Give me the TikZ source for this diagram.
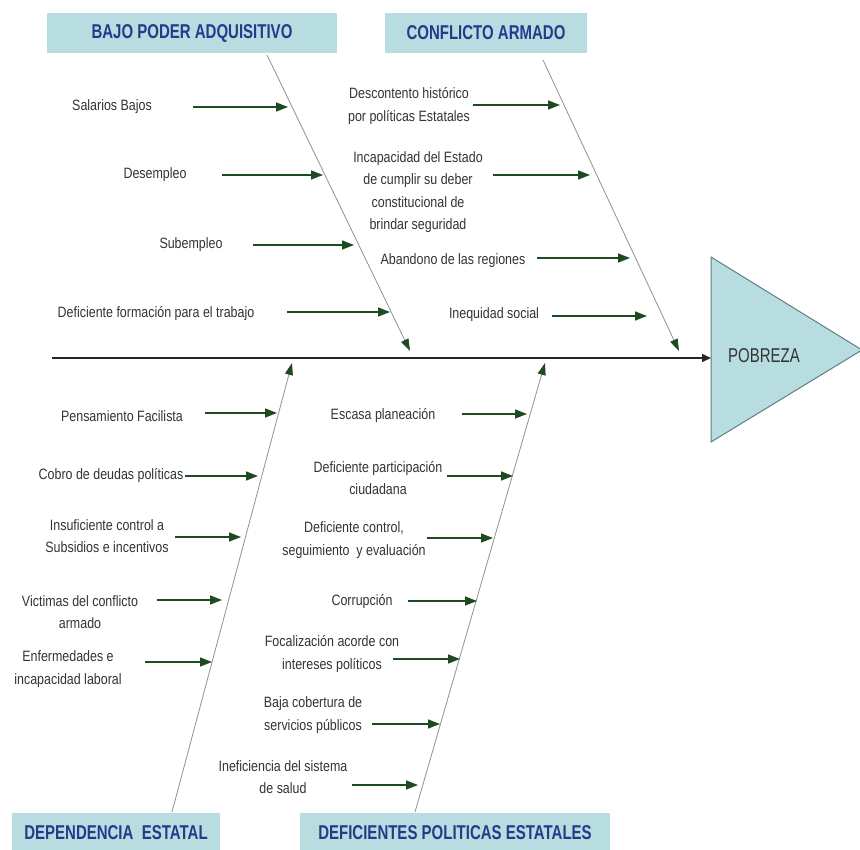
\documentclass[tikz,border=0pt]{standalone}
\usepackage{fontspec}
\setmainfont{Liberation Sans}[FakeStretch=0.83]
\newfontfamily\headfont{Liberation Sans}[FakeStretch=0.75]
\usetikzlibrary{arrows.meta}

\definecolor{cajafondo}{HTML}{B7DDE0}
\definecolor{cajatexto}{HTML}{26398A}
\definecolor{verde}{HTML}{1E4A22}
\definecolor{espinagris}{HTML}{8A948A}
\definecolor{textocausa}{HTML}{333333}
\definecolor{borde}{HTML}{5F7F84}

\tikzset{
  cabecera/.style={fill=cajafondo, inner sep=0pt, font=\headfont\bfseries\fontsize{20}{22}\selectfont, text=cajatexto},
  causa/.style={align=center, inner sep=0pt, font=\fontsize{15}{22.5}\selectfont, text=textocausa},
  flecha/.style={draw=verde, line width=1.5pt, -{Triangle[length=12pt,width=9pt]}},
  espina/.style={draw=espinagris, line width=0.8pt, -{Triangle[length=12pt,width=8pt,color=verde]}}
}

\begin{document}
\begin{tikzpicture}[x=1pt,y=-1pt]
\useasboundingbox (0,0) rectangle (860,850);

% Drawing header boxes
\node [cabecera, minimum width=290, minimum height=40] (bajo) at (192,33) {BAJO PODER ADQUISITIVO};
\node [cabecera, minimum width=202, minimum height=40] (conflicto) at (486,33) {CONFLICTO ARMADO\hspace{22pt}};
\node [cabecera, minimum width=208, minimum height=38, anchor=north] (dependencia) at (116,813) {DEPENDENCIA\ \ ESTATAL};
\node [cabecera, minimum width=310, minimum height=38, anchor=north] (deficientes) at (455,813) {DEFICIENTES POLITICAS ESTATALES\hspace{18pt}};

% Drawing effect triangle
\draw [fill=cajafondo, draw=borde, line width=1pt] (711,257) -- (862,350) -- (711,442) -- cycle;
\node [inner sep=0pt, font=\headfont\fontsize{20}{22}\selectfont, text=textocausa] (pobreza) at (764,356) {POBREZA};

% Drawing spine
\coordinate (inicio) at (52,358);
\coordinate (efecto) at (711,358);
\draw [line width=1.5pt, draw=black!85, -{Triangle[length=9pt,width=8pt]}] (inicio) -- (efecto);

% Drawing bones
\coordinate (b1a) at (267,55);  \coordinate (b1b) at (410,351);
\coordinate (b2a) at (543,60);  \coordinate (b2b) at (679,351);
\coordinate (b3a) at (172,812); \coordinate (b3b) at (292,363);
\coordinate (b4a) at (415,812); \coordinate (b4b) at (545,363);
\draw [espina] (b1a) -- (b1b);
\draw [espina] (b2a) -- (b2b);
\draw [espina] (b3a) -- (b3b);
\draw [espina] (b4a) -- (b4b);

% Marking causes of BAJO PODER ADQUISITIVO
\node [causa] (c1) at (112,107) {Salarios Bajos};
\node [causa] (c2) at (155,175) {Desempleo};
\node [causa] (c3) at (191,245) {Subempleo};
\node [causa] (c4) at (156,314) {Deficiente formación para el trabajo};
\coordinate (c1s) at (193,107); \coordinate (c1e) at (288,107);
\coordinate (c2s) at (222,175); \coordinate (c2e) at (323,175);
\coordinate (c3s) at (253,245); \coordinate (c3e) at (354,245);
\coordinate (c4s) at (287,312); \coordinate (c4e) at (390,312);
\draw [flecha] (c1s) -- (c1e);
\draw [flecha] (c2s) -- (c2e);
\draw [flecha] (c3s) -- (c3e);
\draw [flecha] (c4s) -- (c4e);

% Marking causes of CONFLICTO ARMADO
\node [causa] (a1) at (409,106) {Descontento histórico\\por políticas Estatales};
\node [causa] (a2) at (418,192) {Incapacidad del Estado\\de cumplir su deber\\constitucional de\\brindar seguridad};
\node [causa] (a3) at (453,261) {Abandono de las regiones};
\node [causa] (a4) at (494,315) {Inequidad social};
\coordinate (a1s) at (473,105); \coordinate (a1e) at (560,105);
\coordinate (a2s) at (493,175); \coordinate (a2e) at (590,175);
\coordinate (a3s) at (537,258); \coordinate (a3e) at (630,258);
\coordinate (a4s) at (552,316); \coordinate (a4e) at (647,316);
\draw [flecha] (a1s) -- (a1e);
\draw [flecha] (a2s) -- (a2e);
\draw [flecha] (a3s) -- (a3e);
\draw [flecha] (a4s) -- (a4e);

% Marking causes of DEPENDENCIA ESTATAL
\node [causa] (d1) at (122,416) {Pensamiento Facilista};
\node [causa] (d2) at (111,476) {Cobro de deudas políticas};
\node [causa] (d3) at (107,536) {Insuficiente control a\\Subsidios e incentivos};
\node [causa] (d4) at (80,612) {Victimas del conflicto\\armado};
\node [causa] (d5) at (68,669) {Enfermedades e\\incapacidad laboral};
\coordinate (d1s) at (205,413); \coordinate (d1e) at (277,413);
\coordinate (d2s) at (185,476); \coordinate (d2e) at (258,476);
\coordinate (d3s) at (175,537); \coordinate (d3e) at (241,537);
\coordinate (d4s) at (157,600); \coordinate (d4e) at (222,600);
\coordinate (d5s) at (145,662); \coordinate (d5e) at (212,662);
\draw [flecha] (d1s) -- (d1e);
\draw [flecha] (d2s) -- (d2e);
\draw [flecha] (d3s) -- (d3e);
\draw [flecha] (d4s) -- (d4e);
\draw [flecha] (d5s) -- (d5e);

% Marking causes of DEFICIENTES POLITICAS ESTATALES
\node [causa] (p1) at (383,416) {Escasa planeación};
\node [causa] (p2) at (378,478) {Deficiente participación\\ciudadana};
\node [causa] (p3) at (354,540) {Deficiente control,\\seguimiento\ \ y evaluación};
\node [causa] (p4) at (362,602) {Corrupción};
\node [causa] (p5) at (332,654) {Focalización acorde con\\intereses políticos};
\node [causa] (p6) at (313,715) {Baja cobertura de\\servicios públicos};
\node [causa] (p7) at (283,777) {Ineficiencia del sistema\\de salud};
\coordinate (p1s) at (462,414); \coordinate (p1e) at (527,414);
\coordinate (p2s) at (447,476); \coordinate (p2e) at (513,476);
\coordinate (p3s) at (427,538); \coordinate (p3e) at (493,538);
\coordinate (p4s) at (408,601); \coordinate (p4e) at (477,601);
\coordinate (p5s) at (393,659); \coordinate (p5e) at (460,659);
\coordinate (p6s) at (372,724); \coordinate (p6e) at (440,724);
\coordinate (p7s) at (352,785); \coordinate (p7e) at (418,785);
\draw [flecha] (p1s) -- (p1e);
\draw [flecha] (p2s) -- (p2e);
\draw [flecha] (p3s) -- (p3e);
\draw [flecha] (p4s) -- (p4e);
\draw [flecha] (p5s) -- (p5e);
\draw [flecha] (p6s) -- (p6e);
\draw [flecha] (p7s) -- (p7e);
\end{tikzpicture}
\end{document}
